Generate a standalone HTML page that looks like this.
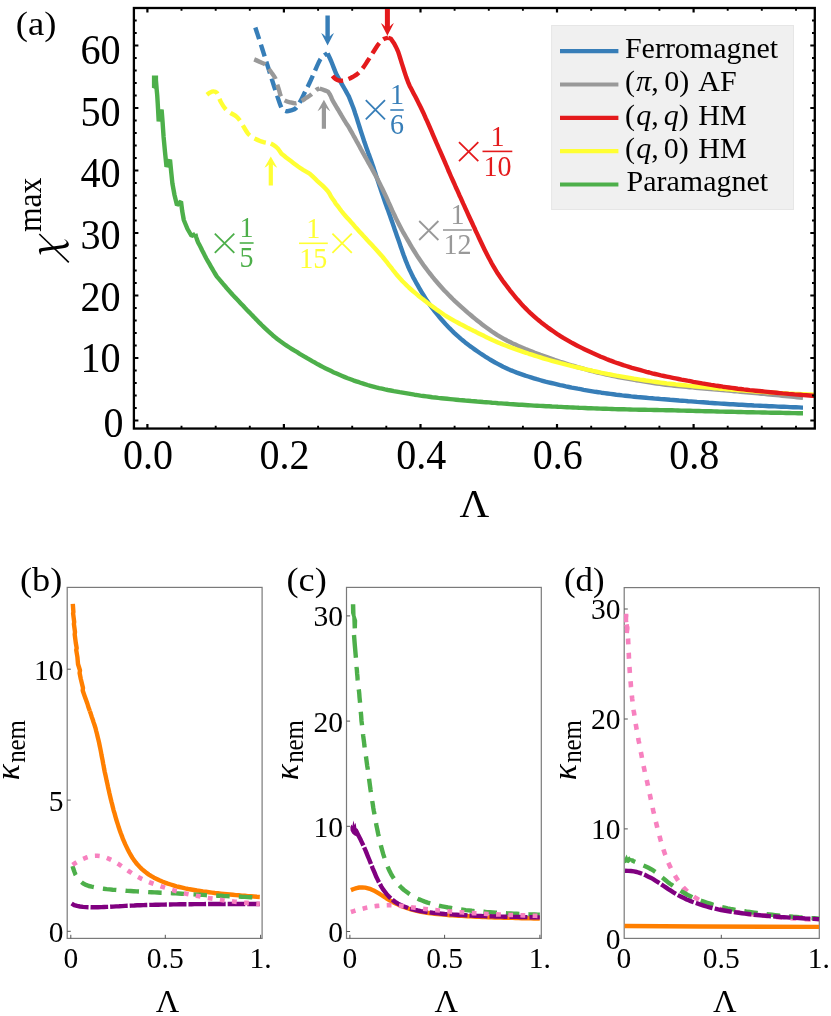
<!DOCTYPE html>
<html><head><meta charset="utf-8"><title>Figure</title>
<style>
html,body{margin:0;padding:0;background:#fff;}
body{width:831px;height:1016px;overflow:hidden;font-family:"Liberation Serif",serif;}
svg{display:block;will-change:transform;}
</style></head>
<body>
<svg width="831" height="1016" viewBox="0 0 831 1016">
<rect width="831" height="1016" fill="#fff"/>
<!-- panel (a) -->
<g fill="none" stroke-linejoin="round" stroke-width="4.4">
<path d="M155.6 77.8L156.6 88.7L157.2 95.0L157.7 103.0L158.2 112.0L158.7 121.3L161.6 109.6L162.5 121.0L163.6 137.0L165.0 152.0L166.5 166.8L170.0 159.6L171.0 170.0L172.4 183.5L174.5 195.0L177.0 205.2L181.0 201.4L182.2 211.0L183.8 220.0L187.5 229.0L191.6 236.0L195.3 233.9" stroke="#4daf4a" stroke-linejoin="bevel"/>
<path d="M151.9 75.6H158.1V88.6L156 89.2L151.9 87.8Z" fill="#4daf4a" stroke="none"/>
<path d="M195.3 233.9L196.1 236.8L197.0 239.6L198.1 242.4L199.5 245.1L200.9 247.8L202.2 250.5L203.6 253.1L204.9 255.8L206.3 258.5L207.8 261.1L209.3 263.7L210.8 266.3L212.3 268.9L213.8 271.5L215.3 274.0L216.9 276.6L218.9 278.9L220.8 281.1L222.7 283.4L224.7 285.7L226.6 288.0L228.6 290.2L230.6 292.4L232.6 294.7L234.7 296.9L236.7 299.1L238.8 301.3L240.8 303.4L242.9 305.6L244.9 307.8L247.0 310.0L249.1 312.1L251.2 314.3L253.3 316.4L255.4 318.6L257.5 320.7L259.6 322.9L261.7 325.0L263.9 327.1L266.0 329.1L268.2 331.2L270.4 333.2L272.7 335.2L275.0 337.1L277.3 339.0L279.7 340.8L282.1 342.5L284.5 344.2L287.0 345.9L289.5 347.5L292.0 349.1L294.6 350.7L297.2 352.2L299.7 353.8L302.3 355.3L304.9 356.8L307.5 358.4L310.1 359.9L312.6 361.4L315.3 362.8L317.9 364.3L320.5 365.7L323.1 367.1L325.8 368.5L328.5 369.8L331.2 371.1L333.9 372.4L336.6 373.6L339.4 374.8L342.2 376.0L344.9 377.1L347.7 378.2L350.5 379.2L353.3 380.3L356.2 381.3L359.0 382.2L361.8 383.2L364.7 384.1L367.6 385.0L370.4 385.8L373.3 386.6L376.2 387.4L379.1 388.1L382.0 388.7L385.0 389.4L387.9 390.0L390.8 390.5L393.8 391.1L396.7 391.6L399.7 392.2L402.6 392.7L405.6 393.2L408.6 393.7L411.5 394.2L414.5 394.7L417.5 395.1L420.4 395.6L423.4 396.0L426.4 396.4L429.3 396.8L432.3 397.2L435.3 397.5L438.3 397.9L441.3 398.2L444.2 398.5L447.2 398.8L450.2 399.1L453.2 399.4L456.2 399.7L459.2 400.0L462.2 400.2L465.2 400.5L468.1 400.7L471.1 401.0L474.1 401.2L477.1 401.5L480.1 401.7L483.1 402.0L486.1 402.2L489.1 402.4L492.1 402.7L495.1 402.9L498.1 403.2L501.1 403.4L504.0 403.6L507.0 403.8L510.0 404.1L513.0 404.3L516.0 404.5L519.0 404.7L522.0 404.8L525.0 405.0L528.0 405.2L531.0 405.4L534.0 405.6L537.0 405.7L540.0 405.9L543.0 406.0L546.0 406.2L549.0 406.3L552.0 406.5L555.0 406.6L558.0 406.8L561.0 406.9L564.0 407.1L567.0 407.2L570.0 407.4L573.0 407.5L576.0 407.6L579.0 407.8L582.0 407.9L585.0 408.0L588.0 408.2L591.0 408.3L594.0 408.4L597.0 408.5L600.0 408.6L603.0 408.7L606.0 408.8L609.0 408.9L612.0 409.0L615.0 409.1L618.0 409.2L621.0 409.3L624.0 409.3L627.0 409.4L630.0 409.5L633.0 409.6L636.0 409.6L639.0 409.7L642.0 409.7L645.0 409.8L648.0 409.9L651.0 409.9L654.0 410.0L657.0 410.0L660.0 410.1L663.0 410.1L666.0 410.2L669.0 410.3L672.0 410.3L675.0 410.4L678.0 410.5L681.0 410.6L684.0 410.6L687.0 410.7L690.0 410.8L693.0 410.9L696.0 411.0L699.0 411.0L702.0 411.1L705.0 411.2L708.0 411.3L711.0 411.3L714.0 411.4L717.0 411.5L720.0 411.6L723.0 411.6L726.0 411.7L729.0 411.8L732.0 411.8L735.0 411.9L738.0 412.0L741.0 412.0L744.0 412.1L747.0 412.2L750.0 412.2L753.0 412.3L756.0 412.4L759.0 412.4L762.0 412.5L765.0 412.5L768.0 412.6L771.0 412.7L774.0 412.7L777.0 412.8L780.0 412.8L783.0 412.9L786.0 413.0L789.0 413.0L792.0 413.1L795.0 413.1L798.0 413.2L801.0 413.3L803.0 413.3" stroke="#4daf4a"/>
<path d="M327.6 53.3L328.8 56.0L330.1 58.8L331.3 61.5L332.4 64.3L333.5 67.1L334.6 69.9L335.7 72.7L337.0 75.4L338.5 78.0L339.9 80.7L341.4 83.3L342.9 85.9L344.4 88.5L345.9 91.1L347.3 93.7L348.8 96.4L349.9 99.1L351.0 101.9L352.1 104.7L353.2 107.5L354.2 110.3L355.1 113.2L356.1 116.1L357.0 118.9L357.9 121.8L358.8 124.6L359.7 127.5L360.6 130.4L361.5 133.2L362.5 136.1L363.4 138.9L364.3 141.8L365.3 144.6L366.3 147.5L367.3 150.3L368.3 153.1L369.4 155.9L370.4 158.8L371.4 161.6L372.4 164.4L373.4 167.3L374.3 170.1L375.3 173.0L376.2 175.8L377.2 178.7L378.1 181.5L379.0 184.4L380.0 187.2L380.9 190.1L381.9 192.9L382.9 195.8L383.8 198.6L384.8 201.4L385.8 204.3L386.8 207.1L387.9 209.9L388.9 212.8L389.9 215.6L390.9 218.4L391.9 221.2L392.9 224.1L393.9 226.9L394.8 229.8L395.8 232.6L396.8 235.4L397.8 238.3L398.8 241.1L399.8 243.9L400.7 246.8L401.7 249.6L402.7 252.4L403.7 255.3L404.8 258.1L405.8 260.9L407.0 263.7L408.1 266.5L409.3 269.2L410.6 271.9L411.9 274.6L413.2 277.3L414.7 279.9L416.1 282.6L417.6 285.2L419.1 287.8L420.6 290.4L422.1 293.0L423.7 295.5L425.3 298.1L426.9 300.6L428.6 303.0L430.3 305.5L432.1 307.9L433.9 310.3L435.8 312.6L437.7 315.0L439.6 317.3L441.5 319.5L443.5 321.8L445.5 324.0L447.6 326.2L449.7 328.4L451.8 330.5L453.9 332.6L456.1 334.6L458.4 336.6L460.6 338.6L462.9 340.5L465.2 342.4L467.6 344.2L470.0 346.1L472.4 347.8L474.9 349.6L477.3 351.3L479.8 353.0L482.3 354.6L484.8 356.3L487.4 357.9L489.9 359.5L492.5 361.0L495.1 362.5L497.7 363.9L500.4 365.3L503.1 366.7L505.8 367.9L508.5 369.2L511.2 370.4L514.0 371.5L516.8 372.6L519.6 373.6L522.5 374.6L525.3 375.6L528.2 376.5L531.0 377.4L533.9 378.3L536.8 379.2L539.7 380.0L542.5 380.8L545.4 381.6L548.4 382.3L551.3 383.0L554.2 383.7L557.1 384.4L560.0 385.1L563.0 385.7L565.9 386.4L568.9 387.0L571.8 387.6L574.7 388.1L577.7 388.7L580.6 389.2L583.6 389.8L586.6 390.3L589.5 390.8L592.5 391.3L595.4 391.8L598.4 392.2L601.4 392.7L604.4 393.1L607.3 393.5L610.3 393.9L613.3 394.3L616.3 394.7L619.2 395.0L622.2 395.4L625.2 395.7L628.2 396.0L631.2 396.4L634.2 396.7L637.2 397.0L640.2 397.2L643.1 397.5L646.1 397.8L649.1 398.1L652.1 398.3L655.1 398.6L658.1 398.8L661.1 399.1L664.1 399.3L667.1 399.5L670.1 399.8L673.1 400.0L676.1 400.2L679.1 400.5L682.1 400.7L685.1 400.9L688.1 401.2L691.0 401.4L694.0 401.6L697.0 401.9L700.0 402.1L703.0 402.3L706.0 402.5L709.0 402.8L712.0 403.0L715.0 403.2L718.0 403.4L721.0 403.6L724.0 403.8L727.0 404.0L730.0 404.2L733.0 404.3L736.0 404.5L739.0 404.7L742.0 404.8L745.0 405.0L748.0 405.2L751.0 405.3L754.0 405.5L757.0 405.6L760.0 405.7L763.0 405.9L766.0 406.0L769.0 406.2L772.0 406.3L775.0 406.4L778.0 406.6L781.0 406.7L784.0 406.8L787.0 406.9L790.0 407.1L793.0 407.2L796.0 407.3L799.0 407.4L802.0 407.6L803.0 407.6" stroke="#377eb8"/>
<path d="M255.3 27.5C256.4 30.9 259.9 41.4 262.0 48.0C264.1 54.6 266.0 60.7 268.0 67.0C270.0 73.3 271.9 79.5 274.0 86.0C276.1 92.5 279.1 102.0 280.7 106.0C282.3 110.0 282.5 109.1 283.5 110.0C284.5 110.9 285.4 111.2 286.7 111.3C287.9 111.4 289.5 110.9 291.0 110.4C292.5 109.9 294.4 109.6 295.9 108.1C297.4 106.6 298.8 104.1 300.2 101.6C301.6 99.1 303.1 95.9 304.5 93.0C305.9 90.1 307.3 87.6 308.9 84.3C310.5 81.0 312.2 77.0 314.0 73.0C315.8 69.0 318.1 63.3 319.7 60.5C321.3 57.7 322.2 57.2 323.5 56.0C324.8 54.8 326.8 53.8 327.4 53.3" stroke="#377eb8" stroke-dasharray="12.3 5.6"/>
<path d="M319.7 88.6L322.6 89.5L325.4 90.6L328.1 91.8L329.8 94.2L331.1 96.9L332.2 99.7L333.7 102.3L335.2 104.9L336.7 107.5L338.3 110.0L339.8 112.6L341.3 115.2L342.9 117.8L344.4 120.3L346.0 122.9L347.7 125.4L349.2 127.9L350.7 130.6L352.2 133.2L353.6 135.8L355.1 138.4L356.5 141.1L358.0 143.7L359.4 146.3L360.8 149.0L362.3 151.6L363.7 154.2L365.2 156.8L366.7 159.4L368.1 162.1L369.6 164.7L371.1 167.3L372.5 169.9L374.0 172.6L375.4 175.2L376.8 177.8L378.2 180.5L379.6 183.2L380.9 185.9L382.2 188.5L383.5 191.3L384.8 194.0L386.1 196.7L387.3 199.4L388.5 202.2L389.8 204.9L391.0 207.6L392.2 210.4L393.5 213.1L394.8 215.8L396.0 218.5L397.4 221.2L398.7 223.9L400.1 226.5L401.5 229.2L402.9 231.8L404.4 234.4L405.9 237.0L407.4 239.6L408.9 242.2L410.4 244.8L411.9 247.4L413.5 250.0L415.1 252.5L416.7 255.1L418.3 257.6L420.0 260.1L421.7 262.5L423.4 265.0L425.2 267.4L427.0 269.8L428.8 272.2L430.7 274.5L432.5 276.9L434.4 279.2L436.4 281.5L438.3 283.7L440.3 286.0L442.3 288.2L444.3 290.4L446.4 292.6L448.5 294.8L450.6 296.9L452.7 299.0L454.9 301.1L457.1 303.1L459.3 305.1L461.5 307.1L463.8 309.1L466.0 311.1L468.3 313.1L470.6 315.0L472.9 317.0L475.2 318.9L477.5 320.8L479.9 322.6L482.2 324.4L484.6 326.3L487.0 328.0L489.5 329.8L491.9 331.5L494.4 333.1L497.0 334.8L499.5 336.3L502.1 337.8L504.7 339.3L507.3 340.7L510.0 342.0L512.7 343.4L515.4 344.6L518.2 345.9L520.9 347.1L523.7 348.2L526.4 349.4L529.2 350.5L532.0 351.6L534.8 352.7L537.6 353.7L540.4 354.8L543.2 355.8L546.1 356.9L548.9 357.9L551.7 358.9L554.5 359.9L557.4 360.8L560.2 361.8L563.1 362.7L565.9 363.6L568.8 364.5L571.7 365.4L574.5 366.2L577.4 367.1L580.3 367.9L583.2 368.7L586.1 369.5L589.0 370.3L591.9 371.0L594.8 371.8L597.7 372.5L600.6 373.2L603.6 373.9L606.5 374.6L609.4 375.2L612.3 375.8L615.3 376.4L618.2 377.0L621.2 377.6L624.1 378.1L627.1 378.7L630.0 379.2L633.0 379.7L635.9 380.2L638.9 380.6L641.9 381.1L644.8 381.6L647.8 382.1L650.8 382.5L653.7 383.0L656.7 383.5L659.7 383.9L662.6 384.3L665.6 384.7L668.6 385.0L671.6 385.3L674.5 385.7L677.5 386.0L680.5 386.3L683.5 386.6L686.5 386.9L689.5 387.2L692.5 387.4L695.4 387.7L698.4 388.0L701.4 388.3L704.4 388.5L707.4 388.8L710.4 389.1L713.4 389.3L716.4 389.6L719.4 389.8L722.3 390.1L725.3 390.4L728.3 390.6L731.3 390.9L734.3 391.2L737.3 391.4L740.3 391.7L743.3 392.0L746.3 392.3L749.2 392.5L752.2 392.8L755.2 393.1L758.2 393.4L761.2 393.7L764.2 393.9L767.2 394.2L770.2 394.5L773.1 394.8L776.1 395.1L779.1 395.4L782.1 395.7L785.1 396.0L788.1 396.3L791.1 396.6L794.0 396.9L797.0 397.2L800.0 397.5L803.0 397.8" stroke="#999999"/>
<path d="M254.2 59.4C255.2 59.8 258.1 61.1 260.0 62.0C261.9 62.9 264.0 63.5 265.6 64.8C267.2 66.1 268.2 68.2 269.4 69.7C270.5 71.2 271.5 72.5 272.5 74.0C273.5 75.5 274.5 76.5 275.3 78.4C276.1 80.3 276.8 83.3 277.5 85.4C278.2 87.5 278.8 89.3 279.3 91.0C279.8 92.7 280.1 94.4 280.7 95.7C281.2 97.0 281.9 98.0 282.6 98.8C283.3 99.6 283.9 100.0 285.1 100.6C286.3 101.2 288.2 101.8 290.0 102.3C291.8 102.8 294.0 103.5 295.9 103.3C297.8 103.1 299.6 102.0 301.3 101.1C303.0 100.2 304.4 99.1 306.0 98.0C307.6 96.9 309.4 96.0 311.1 94.6C312.9 93.2 315.1 90.7 316.5 89.7C317.9 88.7 319.2 88.8 319.7 88.6" stroke="#999999" stroke-dasharray="12.3 5.6"/>
<path d="M270.8 143.6L273.5 144.9L275.9 146.7L278.0 148.8L279.8 151.2L281.5 153.7L283.8 155.5L286.1 157.5L288.5 159.3L290.9 161.1L293.3 162.9L295.7 164.7L298.1 166.5L300.5 168.2L303.1 169.8L305.7 171.3L308.3 172.8L310.7 174.6L312.9 176.7L315.0 178.7L317.2 180.8L319.4 182.8L321.7 184.8L323.9 186.9L325.9 189.1L327.9 191.3L329.6 193.8L331.0 196.5L332.7 198.9L334.4 201.3L335.9 203.9L337.9 206.2L339.6 208.6L341.4 211.0L343.3 213.4L345.3 215.7L347.3 217.9L349.3 220.1L351.3 222.4L353.3 224.6L355.2 226.9L357.2 229.1L359.3 231.4L361.3 233.6L363.3 235.8L365.4 238.0L367.4 240.2L369.5 242.4L371.5 244.6L373.5 246.8L375.6 249.0L377.6 251.2L379.6 253.5L381.6 255.7L383.5 258.0L385.4 260.3L387.3 262.7L389.1 265.1L391.0 267.4L392.8 269.8L394.7 272.1L396.5 274.5L398.5 276.8L400.5 279.0L402.5 281.2L404.6 283.3L406.7 285.4L408.9 287.5L411.1 289.5L413.4 291.5L415.7 293.4L418.0 295.4L420.3 297.2L422.7 299.1L425.1 300.9L427.4 302.8L429.8 304.6L432.3 306.4L434.7 308.1L437.1 309.9L439.6 311.6L442.0 313.3L444.5 315.0L447.1 316.6L449.6 318.1L452.2 319.6L454.8 321.1L457.5 322.5L460.1 324.0L462.8 325.3L465.5 326.7L468.1 328.1L470.8 329.4L473.5 330.8L476.2 332.1L478.9 333.5L481.6 334.8L484.3 336.1L487.0 337.5L489.7 338.7L492.4 340.0L495.2 341.2L497.9 342.4L500.7 343.6L503.5 344.7L506.3 345.8L509.1 346.9L511.9 347.9L514.7 348.9L517.5 349.9L520.4 350.9L523.2 351.9L526.1 352.8L528.9 353.8L531.8 354.7L534.6 355.6L537.5 356.5L540.4 357.4L543.2 358.3L546.1 359.2L549.0 360.0L551.9 360.8L554.8 361.6L557.7 362.4L560.6 363.2L563.5 363.9L566.4 364.7L569.3 365.4L572.2 366.1L575.2 366.8L578.1 367.5L581.0 368.2L583.9 368.9L586.9 369.6L589.8 370.2L592.7 370.9L595.7 371.5L598.6 372.2L601.5 372.8L604.5 373.4L607.4 374.0L610.4 374.5L613.3 375.1L616.3 375.7L619.2 376.2L622.2 376.7L625.1 377.2L628.1 377.7L631.1 378.2L634.0 378.7L637.0 379.1L640.0 379.6L643.0 380.0L645.9 380.5L648.9 380.9L651.9 381.4L654.8 381.8L657.8 382.2L660.8 382.6L663.8 383.0L666.7 383.4L669.7 383.7L672.7 384.0L675.7 384.4L678.7 384.7L681.7 385.0L684.7 385.3L687.7 385.6L690.6 385.9L693.6 386.2L696.6 386.5L699.6 386.8L702.6 387.1L705.6 387.4L708.6 387.6L711.6 387.9L714.6 388.2L717.6 388.4L720.6 388.7L723.6 388.9L726.6 389.2L729.5 389.4L732.5 389.7L735.5 389.9L738.5 390.2L741.5 390.4L744.5 390.6L747.5 390.9L750.5 391.1L753.5 391.3L756.5 391.5L759.5 391.7L762.5 391.9L765.5 392.1L768.5 392.3L771.5 392.5L774.5 392.7L777.5 392.9L780.5 393.1L783.5 393.2L786.5 393.4L789.5 393.6L792.5 393.7L795.5 393.9L798.5 394.0L801.5 394.2L804.5 394.3L807.5 394.4L810.5 394.5L813.5 394.7L814.5 394.7" stroke="#ffff33"/>
<path d="M206.9 94.7C207.4 94.3 208.9 93.1 210.0 92.6C211.1 92.0 212.3 91.4 213.4 91.4C214.5 91.4 215.8 91.7 216.6 92.5C217.4 93.3 217.8 94.9 218.5 96.5C219.2 98.1 219.9 100.2 221.0 102.2C222.1 104.2 223.8 107.0 225.3 108.7C226.8 110.4 228.2 111.2 230.0 112.5C231.8 113.8 234.5 115.0 236.1 116.3C237.7 117.5 238.4 118.5 239.5 120.0C240.6 121.5 241.6 123.4 242.6 125.0C243.6 126.6 244.4 128.1 245.3 129.5C246.2 130.9 247.0 132.4 248.0 133.6C249.0 134.8 250.2 135.8 251.5 136.7C252.8 137.6 254.2 138.3 255.6 139.0C257.0 139.7 258.6 140.4 260.0 141.0C261.4 141.6 262.5 141.9 264.3 142.3C266.1 142.7 269.7 143.4 270.8 143.6" stroke="#ffff33" stroke-dasharray="12.3 5.6"/>
<path d="M388.1 37.7L390.9 38.8L392.6 41.2L394.3 43.7L395.7 46.4L397.0 49.1L398.2 51.8L399.1 54.7L400.0 57.5L400.9 60.4L401.8 63.3L402.7 66.1L403.6 69.0L404.5 71.9L405.4 74.7L406.4 77.6L407.5 80.4L408.5 83.2L409.7 85.9L411.1 88.6L412.5 91.2L413.9 93.9L415.3 96.5L416.7 99.2L418.0 101.9L419.3 104.6L420.7 107.3L422.0 110.0L423.3 112.7L424.5 115.4L425.7 118.2L427.0 120.9L428.2 123.6L429.4 126.4L430.6 129.1L431.8 131.9L432.9 134.7L434.1 137.4L435.3 140.2L436.5 143.0L437.7 145.7L438.9 148.5L440.1 151.2L441.3 153.9L442.5 156.7L443.7 159.4L444.9 162.2L446.1 165.0L447.3 167.7L448.4 170.5L449.6 173.2L450.8 176.0L452.0 178.7L453.3 181.5L454.5 184.2L455.7 187.0L457.0 189.7L458.2 192.4L459.4 195.2L460.7 197.9L461.9 200.6L463.1 203.4L464.4 206.1L465.6 208.8L466.9 211.6L468.1 214.3L469.3 217.0L470.6 219.8L471.9 222.5L473.1 225.2L474.4 227.9L475.6 230.7L476.9 233.4L478.2 236.1L479.4 238.8L480.7 241.5L482.0 244.3L483.3 247.0L484.6 249.7L485.9 252.3L487.3 255.0L488.7 257.7L490.1 260.3L491.5 263.0L493.0 265.6L494.5 268.2L496.0 270.7L497.6 273.3L499.3 275.8L501.0 278.3L502.7 280.7L504.5 283.1L506.3 285.5L508.1 287.9L509.9 290.3L511.8 292.6L513.7 295.0L515.6 297.3L517.5 299.6L519.5 301.8L521.5 304.1L523.5 306.3L525.6 308.4L527.7 310.5L529.9 312.6L532.1 314.6L534.3 316.6L536.6 318.6L538.9 320.5L541.2 322.4L543.6 324.2L546.0 326.1L548.4 327.9L550.8 329.6L553.3 331.3L555.7 333.0L558.2 334.7L560.8 336.3L563.3 337.9L565.9 339.4L568.5 340.9L571.1 342.4L573.7 343.8L576.4 345.2L579.1 346.6L581.7 347.9L584.4 349.2L587.1 350.5L589.9 351.8L592.6 353.1L595.3 354.3L598.1 355.5L600.8 356.7L603.6 357.8L606.4 359.0L609.2 360.1L612.0 361.1L614.8 362.2L617.6 363.2L620.5 364.1L623.3 365.1L626.2 366.0L629.0 366.9L631.9 367.8L634.8 368.6L637.7 369.4L640.6 370.2L643.5 371.0L646.4 371.8L649.3 372.5L652.2 373.3L655.1 374.0L658.0 374.7L660.9 375.4L663.9 376.0L666.8 376.6L669.7 377.2L672.7 377.8L675.6 378.4L678.6 379.0L681.5 379.6L684.5 380.1L687.4 380.7L690.4 381.2L693.3 381.8L696.3 382.3L699.2 382.8L702.2 383.4L705.1 383.9L708.1 384.4L711.1 384.9L714.0 385.3L717.0 385.8L720.0 386.2L722.9 386.7L725.9 387.1L728.9 387.5L731.8 387.9L734.8 388.3L737.8 388.7L740.8 389.0L743.8 389.4L746.7 389.7L749.7 390.1L752.7 390.4L755.7 390.7L758.7 391.0L761.7 391.3L764.7 391.6L767.6 391.9L770.6 392.2L773.6 392.5L776.6 392.8L779.6 393.1L782.6 393.4L785.6 393.6L788.6 393.9L791.6 394.1L794.5 394.4L797.5 394.6L800.5 394.8L803.5 395.1L806.5 395.3L809.5 395.5L812.5 395.7L814.5 395.9" stroke="#e41a1c"/>
<path d="M332.5 75.8C332.9 76.3 334.0 77.8 335.0 78.6C336.0 79.3 337.0 80.0 338.3 80.3C339.6 80.6 341.4 80.8 343.0 80.6C344.6 80.4 346.1 80.0 347.7 79.4C349.3 78.8 350.8 78.0 352.5 77.0C354.2 76.0 356.1 75.1 357.8 73.6C359.6 72.1 361.3 70.0 363.0 67.8C364.7 65.6 366.2 63.1 367.9 60.6C369.6 58.1 371.3 55.1 373.0 52.5C374.7 49.9 376.7 46.7 378.0 44.8C379.3 42.9 380.0 42.3 381.0 41.3C382.0 40.3 382.6 39.6 383.8 39.0C385.0 38.4 387.4 37.9 388.1 37.7" stroke="#e41a1c" stroke-dasharray="12.3 5.6"/>
</g>
<g stroke="#000" fill="none">
<rect x="133.90" y="8.00" width="680.90" height="420.55" stroke-width="2.3"/>
<path d="M147.4 428.55v-4.5M147.4 8.00v4.5" stroke-width="2.2"/><path d="M181.5 428.55v-2.8M181.5 8.00v2.8" stroke-width="1.9"/><path d="M215.7 428.55v-2.8M215.7 8.00v2.8" stroke-width="1.9"/><path d="M249.8 428.55v-2.8M249.8 8.00v2.8" stroke-width="1.9"/><path d="M283.9 428.55v-4.5M283.9 8.00v4.5" stroke-width="2.2"/><path d="M318.1 428.55v-2.8M318.1 8.00v2.8" stroke-width="1.9"/><path d="M352.2 428.55v-2.8M352.2 8.00v2.8" stroke-width="1.9"/><path d="M386.3 428.55v-2.8M386.3 8.00v2.8" stroke-width="1.9"/><path d="M420.5 428.55v-4.5M420.5 8.00v4.5" stroke-width="2.2"/><path d="M454.6 428.55v-2.8M454.6 8.00v2.8" stroke-width="1.9"/><path d="M488.8 428.55v-2.8M488.8 8.00v2.8" stroke-width="1.9"/><path d="M522.9 428.55v-2.8M522.9 8.00v2.8" stroke-width="1.9"/><path d="M557.0 428.55v-4.5M557.0 8.00v4.5" stroke-width="2.2"/><path d="M591.2 428.55v-2.8M591.2 8.00v2.8" stroke-width="1.9"/><path d="M625.3 428.55v-2.8M625.3 8.00v2.8" stroke-width="1.9"/><path d="M659.4 428.55v-2.8M659.4 8.00v2.8" stroke-width="1.9"/><path d="M693.6 428.55v-4.5M693.6 8.00v4.5" stroke-width="2.2"/><path d="M727.7 428.55v-2.8M727.7 8.00v2.8" stroke-width="1.9"/><path d="M761.8 428.55v-2.8M761.8 8.00v2.8" stroke-width="1.9"/><path d="M796.0 428.55v-2.8M796.0 8.00v2.8" stroke-width="1.9"/><path d="M133.90 420.5h4.5M814.80 420.5h-4.5" stroke-width="2.2"/><path d="M133.90 408.0h2.8M814.80 408.0h-2.8" stroke-width="1.9"/><path d="M133.90 395.5h2.8M814.80 395.5h-2.8" stroke-width="1.9"/><path d="M133.90 383.0h2.8M814.80 383.0h-2.8" stroke-width="1.9"/><path d="M133.90 370.5h2.8M814.80 370.5h-2.8" stroke-width="1.9"/><path d="M133.90 358.0h4.5M814.80 358.0h-4.5" stroke-width="2.2"/><path d="M133.90 345.5h2.8M814.80 345.5h-2.8" stroke-width="1.9"/><path d="M133.90 333.0h2.8M814.80 333.0h-2.8" stroke-width="1.9"/><path d="M133.90 320.5h2.8M814.80 320.5h-2.8" stroke-width="1.9"/><path d="M133.90 308.0h2.8M814.80 308.0h-2.8" stroke-width="1.9"/><path d="M133.90 295.5h4.5M814.80 295.5h-4.5" stroke-width="2.2"/><path d="M133.90 283.0h2.8M814.80 283.0h-2.8" stroke-width="1.9"/><path d="M133.90 270.5h2.8M814.80 270.5h-2.8" stroke-width="1.9"/><path d="M133.90 258.0h2.8M814.80 258.0h-2.8" stroke-width="1.9"/><path d="M133.90 245.5h2.8M814.80 245.5h-2.8" stroke-width="1.9"/><path d="M133.90 233.0h4.5M814.80 233.0h-4.5" stroke-width="2.2"/><path d="M133.90 220.5h2.8M814.80 220.5h-2.8" stroke-width="1.9"/><path d="M133.90 208.0h2.8M814.80 208.0h-2.8" stroke-width="1.9"/><path d="M133.90 195.5h2.8M814.80 195.5h-2.8" stroke-width="1.9"/><path d="M133.90 183.0h2.8M814.80 183.0h-2.8" stroke-width="1.9"/><path d="M133.90 170.5h4.5M814.80 170.5h-4.5" stroke-width="2.2"/><path d="M133.90 158.0h2.8M814.80 158.0h-2.8" stroke-width="1.9"/><path d="M133.90 145.5h2.8M814.80 145.5h-2.8" stroke-width="1.9"/><path d="M133.90 133.0h2.8M814.80 133.0h-2.8" stroke-width="1.9"/><path d="M133.90 120.5h2.8M814.80 120.5h-2.8" stroke-width="1.9"/><path d="M133.90 108.0h4.5M814.80 108.0h-4.5" stroke-width="2.2"/><path d="M133.90 95.5h2.8M814.80 95.5h-2.8" stroke-width="1.9"/><path d="M133.90 83.0h2.8M814.80 83.0h-2.8" stroke-width="1.9"/><path d="M133.90 70.5h2.8M814.80 70.5h-2.8" stroke-width="1.9"/><path d="M133.90 58.0h2.8M814.80 58.0h-2.8" stroke-width="1.9"/><path d="M133.90 45.5h4.5M814.80 45.5h-4.5" stroke-width="2.2"/><path d="M133.90 33.0h2.8M814.80 33.0h-2.8" stroke-width="1.9"/><path d="M133.90 20.5h2.8M814.80 20.5h-2.8" stroke-width="1.9"/>
</g>
<path fill="#377eb8" d="M327.6 45.6 L321.2 33.0 Q324.2 34.6 325.4 36.4 L325.4 15.6 L329.8 15.6 L329.8 36.4 Q331.0 34.6 334.0 33.0 Z"/>
<path fill="#e41a1c" d="M387.4 35.7 L380.9 23.1 Q383.7 24.7 384.9 26.5 L384.9 9.1 L389.9 9.1 L389.9 26.5 Q391.1 24.7 393.9 23.1 Z"/>
<path fill="#999999" d="M323.9 99.8 L317.5 111.2 Q320.6 109.6 321.8 107.8 L321.8 128.8 L326.0 128.8 L326.0 107.8 Q327.2 109.6 330.3 111.2 Z"/>
<path fill="#ffff33" d="M270.8 156.4 L264.4 167.8 Q267.5 166.2 268.7 164.4 L268.7 185.6 L272.9 185.6 L272.9 164.4 Q274.1 166.2 277.2 167.8 Z"/>
<g font-family="'Liberation Serif', serif" font-size="41.3" fill="#000" lengthAdjust="spacingAndGlyphs">
<text x="123.6" y="437.0" text-anchor="end" textLength="20" lengthAdjust="spacingAndGlyphs">0</text>
<text x="120.6" y="372.4" text-anchor="end" textLength="40.2" lengthAdjust="spacingAndGlyphs">10</text>
<text x="120.6" y="310.7" text-anchor="end" textLength="40.2" lengthAdjust="spacingAndGlyphs">20</text>
<text x="120.6" y="249.0" text-anchor="end" textLength="40.2" lengthAdjust="spacingAndGlyphs">30</text>
<text x="120.6" y="187.2" text-anchor="end" textLength="40.2" lengthAdjust="spacingAndGlyphs">40</text>
<text x="120.6" y="125.5" text-anchor="end" textLength="40.2" lengthAdjust="spacingAndGlyphs">50</text>
<text x="120.6" y="63.8" text-anchor="end" textLength="40.2" lengthAdjust="spacingAndGlyphs">60</text>
<text x="148.1" y="469" text-anchor="middle" textLength="50" lengthAdjust="spacingAndGlyphs">0.0</text>
<text x="284.6" y="469" text-anchor="middle" textLength="50" lengthAdjust="spacingAndGlyphs">0.2</text>
<text x="421.2" y="469" text-anchor="middle" textLength="50" lengthAdjust="spacingAndGlyphs">0.4</text>
<text x="557.7" y="469" text-anchor="middle" textLength="50" lengthAdjust="spacingAndGlyphs">0.6</text>
<text x="694.3" y="469" text-anchor="middle" textLength="50" lengthAdjust="spacingAndGlyphs">0.8</text>
<text x="474.4" y="517" text-anchor="middle" font-size="39.8" textLength="29.8" lengthAdjust="spacingAndGlyphs">&#923;</text>
</g>
<text x="15.8" y="34.5" font-family="'Liberation Serif', serif" font-size="34.5" fill="#000" textLength="40.6" lengthAdjust="spacingAndGlyphs">(a)</text>
<g transform="translate(69,262.5) rotate(-90)" font-family="'Liberation Serif', serif" fill="#000">
<text x="30.4" y="-27.8" font-size="33" textLength="54.4" lengthAdjust="spacingAndGlyphs">max</text>
</g>
<path d="M40.6 255C39.6 253.5 38.8 251.5 38.9 249.9C39.2 248.6 40.2 248.3 42 248.1L60 245.5C63.5 245 66.4 244 66.6 242.4C66.6 241.2 65.4 240.2 63.8 239.2C66.3 239.6 68.6 241.6 68.9 244.2C69 246.6 67 247.7 63 248.3L43.5 251C41.6 251.3 41 252 41 253Z" fill="#000"/>
<path d="M39.3 234L68.8 262.3" stroke="#000" stroke-width="1.6" fill="none"/>
<rect x="551.6" y="25.5" width="241.9" height="184.0" fill="#f0f0f0" stroke="#e6e6e6" stroke-width="1"/>
<path d="M560 51.2H618.4" stroke="#377eb8" stroke-width="4.2"/>
<path d="M560 84.5H618.4" stroke="#999999" stroke-width="4.2"/>
<path d="M560 117.8H618.4" stroke="#e41a1c" stroke-width="4.2"/>
<path d="M560 151.2H618.4" stroke="#ffff33" stroke-width="4.2"/>
<path d="M560 184.5H618.4" stroke="#4daf4a" stroke-width="4.2"/>
<g font-family="'Liberation Serif', serif" font-size="30" fill="#000">
<text x="624.9" y="57.6">Ferromagnet</text>
<text x="625.0" y="91.2">(<tspan dx="1.3" font-style="italic">&#960;</tspan>,<tspan dx="5.4">0)</tspan><tspan x="698.3">AF</tspan></text>
<text x="625.0" y="124.6">(<tspan dx="1.3" font-style="italic">q</tspan>,<tspan dx="5" font-style="italic">q</tspan>)<tspan x="698.3">HM</tspan></text>
<text x="625.0" y="157.8">(<tspan dx="1.3" font-style="italic">q</tspan>,<tspan dx="5">0)</tspan><tspan x="698.3">HM</tspan></text>
<text x="626.5" y="191.3">Paramagnet</text>
</g>
<path d="M365.8 100.2L385.0 119.4M365.8 119.4L385.0 100.2" stroke="#377eb8" stroke-width="1.8" fill="none"/>
<g font-family="'Liberation Serif', serif" font-size="30" fill="#377eb8" text-anchor="middle"><text x="397.0" y="104.2" textLength="14.0" lengthAdjust="spacingAndGlyphs">1</text><text x="397.0" y="134.4" textLength="14.0" lengthAdjust="spacingAndGlyphs">6</text></g><path d="M390.3 110.0H403.7" stroke="#377eb8" stroke-width="1.6"/>
<path d="M459.0 142.2L478.3 161.2M459.0 161.2L478.3 142.2" stroke="#e41a1c" stroke-width="1.8" fill="none"/>
<g font-family="'Liberation Serif', serif" font-size="30" fill="#e41a1c" text-anchor="middle"><text x="497.4" y="145.6" textLength="14.0" lengthAdjust="spacingAndGlyphs">1</text><text x="497.4" y="175.8" textLength="28.0" lengthAdjust="spacingAndGlyphs">10</text></g><path d="M482.5 151.4H512.3" stroke="#e41a1c" stroke-width="1.6"/>
<path d="M419.2 221.0L438.4 240.0M419.2 240.0L438.4 221.0" stroke="#999999" stroke-width="1.8" fill="none"/>
<g font-family="'Liberation Serif', serif" font-size="30" fill="#999999" text-anchor="middle"><text x="457.4" y="224.2" textLength="14.0" lengthAdjust="spacingAndGlyphs">1</text><text x="457.4" y="254.4" textLength="28.0" lengthAdjust="spacingAndGlyphs">12</text></g><path d="M443.0 230.0H471.8" stroke="#999999" stroke-width="1.6"/>
<path d="M214.8 233.6L234.3 252.8M214.8 252.8L234.3 233.6" stroke="#4daf4a" stroke-width="1.8" fill="none"/>
<g font-family="'Liberation Serif', serif" font-size="30" fill="#4daf4a" text-anchor="middle"><text x="246.4" y="237.2" textLength="14.0" lengthAdjust="spacingAndGlyphs">1</text><text x="246.4" y="267.4" textLength="14.0" lengthAdjust="spacingAndGlyphs">5</text></g><path d="M239.7 243.0H253.6" stroke="#4daf4a" stroke-width="1.6"/>
<g font-family="'Liberation Serif', serif" font-size="30" fill="#ffff33" text-anchor="middle"><text x="313.3" y="237.5" textLength="14.0" lengthAdjust="spacingAndGlyphs">1</text><text x="313.3" y="267.7" textLength="28.0" lengthAdjust="spacingAndGlyphs">15</text></g><path d="M299.0 243.3H327.8" stroke="#ffff33" stroke-width="1.6"/>
<path d="M332.4 233.6L351.8 252.8M332.4 252.8L351.8 233.6" stroke="#ffff33" stroke-width="1.8" fill="none"/>
<!-- panels (b)(c)(d) -->
<rect x="67.2" y="587.4" width="194.9" height="351.0" fill="none" stroke="#7a7a7a" stroke-width="1.2"/><path d="M70.8 938.4v-3.6M165.3 938.4v-3.6M260.6 938.4v-3.6M67.2 931.3h3.6M67.2 800.1h3.6M67.2 669.2h3.6" stroke="#555" stroke-width="1" fill="none"/><g font-family="'Liberation Serif', serif" font-size="29.5" fill="#000"><text x="70.8" y="968.2" text-anchor="middle">0</text><text x="165.3" y="968.2" text-anchor="middle">0.5</text><text x="260.6" y="968.2" text-anchor="middle">1.</text><text x="63.6" y="941.7" text-anchor="end">0</text><text x="63.6" y="810.5" text-anchor="end">5</text><text x="63.6" y="679.6" text-anchor="end">10</text></g><text x="20.0" y="591.2" font-family="'Liberation Serif', serif" font-size="33.5" fill="#000" textLength="42.3" lengthAdjust="spacingAndGlyphs">(b)</text><text x="167.5" y="1012" text-anchor="middle" font-family="'Liberation Serif', serif" font-size="32.5" fill="#000">&#923;</text><g transform="translate(19.3,780.2) rotate(-90)" font-family="'Liberation Serif', serif" fill="#000"><text x="0" y="0" font-size="33.5" font-style="italic">&#954;</text><text x="17.4" y="5.4" font-size="28" textLength="42.7" lengthAdjust="spacingAndGlyphs">nem</text></g>
<rect x="346.5" y="587.4" width="194.8" height="351.0" fill="none" stroke="#7a7a7a" stroke-width="1.2"/><path d="M349.9 938.4v-3.6M444.6 938.4v-3.6M539.9 938.4v-3.6M346.5 931.5h3.6M346.5 826.3h3.6M346.5 721.1h3.6M346.5 615.9h3.6" stroke="#555" stroke-width="1" fill="none"/><g font-family="'Liberation Serif', serif" font-size="29.5" fill="#000"><text x="349.9" y="968.2" text-anchor="middle">0</text><text x="444.6" y="968.2" text-anchor="middle">0.5</text><text x="539.9" y="968.2" text-anchor="middle">1.</text><text x="342.9" y="941.9" text-anchor="end">0</text><text x="342.9" y="836.7" text-anchor="end">10</text><text x="342.9" y="731.5" text-anchor="end">20</text><text x="342.9" y="626.3" text-anchor="end">30</text></g><text x="286.5" y="591.2" font-family="'Liberation Serif', serif" font-size="33.5" fill="#000" textLength="40.2" lengthAdjust="spacingAndGlyphs">(c)</text><text x="446.2" y="1012" text-anchor="middle" font-family="'Liberation Serif', serif" font-size="32.5" fill="#000">&#923;</text><g transform="translate(297.9,780.2) rotate(-90)" font-family="'Liberation Serif', serif" fill="#000"><text x="0" y="0" font-size="33.5" font-style="italic">&#954;</text><text x="17.4" y="5.4" font-size="28" textLength="42.7" lengthAdjust="spacingAndGlyphs">nem</text></g>
<rect x="624.2" y="587.6" width="195.1" height="350.8" fill="none" stroke="#7a7a7a" stroke-width="1.2"/><path d="M721.3 938.4v-3.6M624.2 828.9h3.6M624.2 719.0h3.6M624.2 609.0h3.6" stroke="#555" stroke-width="1" fill="none"/><g font-family="'Liberation Serif', serif" font-size="29.5" fill="#000"><text x="623.9" y="968.2" text-anchor="middle">0</text><text x="721.3" y="968.2" text-anchor="middle">0.5</text><text x="818.7" y="968.2" text-anchor="middle">1.</text><text x="620.6" y="949.0" text-anchor="end">0</text><text x="620.6" y="839.3" text-anchor="end">10</text><text x="620.6" y="729.4" text-anchor="end">20</text><text x="620.6" y="619.4" text-anchor="end">30</text></g><text x="564.0" y="591.2" font-family="'Liberation Serif', serif" font-size="33.5" fill="#000" textLength="40.6" lengthAdjust="spacingAndGlyphs">(d)</text><text x="724.9" y="1012" text-anchor="middle" font-family="'Liberation Serif', serif" font-size="32.5" fill="#000">&#923;</text><g transform="translate(575.9,780.2) rotate(-90)" font-family="'Liberation Serif', serif" fill="#000"><text x="0" y="0" font-size="33.5" font-style="italic">&#954;</text><text x="17.4" y="5.4" font-size="28" textLength="42.7" lengthAdjust="spacingAndGlyphs">nem</text></g>
<g fill="none" stroke-linejoin="round" stroke-width="4.4">
<path d="M72.8 603.9L73.4 612.0L73.1 613.5L74.2 622.0L73.9 624.0L75.0 632.0L74.7 634.5L75.8 643.0L76.7 648.1L76.2 650.0L77.4 657.0L78.0 664.0L80.0 670.5L79.6 673.0L80.8 679.0L83.0 688.0L82.7 690.5L84.6 696.0L87.5 704.0L88.2 706.5L89.8 711.0" stroke="#ff7f00"/>
<path d="M89.8 711.0L90.8 713.8L91.7 716.7L92.7 719.5L93.6 722.4L94.6 725.3L95.5 728.1L96.2 731.0L97.0 734.0L97.7 736.9L98.4 739.8L99.1 742.7L99.7 745.7L100.3 748.6L100.9 751.6L101.4 754.5L102.0 757.5L102.6 760.4L103.1 763.4L103.7 766.3L104.2 769.3L104.8 772.2L105.5 775.2L106.1 778.1L106.7 781.1L107.4 784.0L108.0 786.9L108.7 789.9L109.3 792.8L110.0 795.7L110.7 798.7L111.4 801.6L112.2 804.5L112.9 807.4L113.6 810.3L114.5 813.2L115.3 816.1L116.1 819.0L117.0 821.9L117.9 824.7L118.8 827.6L119.8 830.4L120.8 833.3L121.9 836.1L122.9 838.9L124.1 841.7L125.3 844.4L126.6 847.1L127.9 849.8L129.3 852.5L130.8 855.1L132.3 857.7L134.0 860.1L135.8 862.5L137.7 864.8L139.8 867.0L141.9 869.1L144.2 871.0L146.5 872.9L148.9 874.6L151.4 876.2L154.0 877.7L156.7 879.0L159.4 880.3L162.2 881.5L165.0 882.6L167.8 883.6L170.7 884.5L173.5 885.4L176.4 886.3L179.3 887.0L182.2 887.7L185.2 888.4L188.1 889.0L191.1 889.5L194.0 890.0L197.0 890.5L200.0 890.9L203.0 891.4L205.9 891.8L208.9 892.2L211.9 892.6L214.9 893.0L217.9 893.3L220.9 893.6L223.8 893.9L226.8 894.2L229.8 894.5L232.8 894.8L235.8 895.1L238.8 895.3L241.8 895.6L244.8 895.8L247.8 896.1L250.8 896.3L253.8 896.5L256.8 896.8L259.8 897.0" stroke="#ff7f00"/>
<path d="M72.6 866.1L73.4 869.0L74.4 871.8L75.5 874.6L77.1 877.2L78.7 879.7L81.0 881.7L83.3 883.6L86.0 884.9L88.8 886.0L91.7 886.7L94.7 887.3L97.6 887.8L100.6 888.3L103.6 888.7L106.6 889.1L109.6 889.4L112.6 889.7L115.5 889.9L118.5 890.2L121.5 890.4L124.5 890.6L127.6 890.9L130.6 891.0L133.6 891.2L136.6 891.4L139.6 891.6L142.6 891.7L145.6 891.9L148.6 892.1L151.6 892.2L154.6 892.4L157.6 892.5L160.6 892.7L163.6 892.8L166.6 893.0L169.6 893.1L172.6 893.2L175.6 893.4L178.6 893.5L181.7 893.7L184.7 893.9L187.7 894.0L190.7 894.2L193.7 894.4L196.7 894.6L199.7 894.7L202.7 894.9L205.7 895.1L208.7 895.3L211.7 895.4L214.7 895.6L217.7 895.7L220.7 895.8L223.7 896.0L226.7 896.1L229.7 896.2L232.7 896.4L235.8 896.5L238.8 896.6L241.8 896.8L244.8 896.9L247.8 897.1L250.8 897.2L253.8 897.4L256.8 897.5L259.8 897.7" stroke="#4daf4a" stroke-dasharray="13.5 9.2" stroke-dashoffset="4"/>
<path d="M71.6 903.5L74.2 905.1L77.1 905.9L80.0 906.5L83.0 906.9L86.0 907.1L89.0 907.2L92.0 907.3L95.0 907.3L98.1 907.2L101.1 907.1L104.1 907.0L107.1 906.9L110.1 906.8L113.1 906.6L116.1 906.4L119.1 906.3L122.1 906.1L125.2 905.9L128.2 905.8L131.2 905.6L134.2 905.5L137.2 905.3L140.2 905.2L143.2 905.1L146.2 905.0L149.3 904.9L152.3 904.9L155.3 904.8L158.3 904.7L161.3 904.6L164.3 904.6L167.3 904.5L170.4 904.5L173.4 904.4L176.4 904.4L179.4 904.3L182.4 904.3L185.4 904.2L188.4 904.2L191.5 904.2L194.5 904.1L197.5 904.1L200.5 904.1L203.5 904.1L206.5 904.0L209.5 904.0L212.6 904.0L215.6 904.0L218.6 904.0L221.6 904.0L224.6 904.0L227.6 904.0L230.7 904.0L233.7 904.0L236.7 904.0L239.7 904.0L242.7 904.0L245.7 904.0L248.7 904.0L251.8 904.0L254.8 904.0L257.8 904.0L259.8 904.0" stroke="#800080" stroke-dasharray="17.6 2"/>
<path d="M72.6 864.9L75.1 863.2L77.6 861.7L80.2 860.2L82.9 858.9L85.7 857.8L88.5 856.9L91.4 856.2L94.3 855.8L97.2 855.7L100.1 856.0L103.0 856.6L105.8 857.5L108.5 858.6L111.2 859.9L113.9 861.3L116.4 862.8L119.0 864.4L121.5 866.1L123.9 867.8L126.4 869.5L128.9 871.3L131.4 872.9L133.9 874.6L136.4 876.1L139.1 877.5L141.7 878.9L144.5 880.2L147.2 881.4L150.0 882.5L152.8 883.5L155.7 884.5L158.5 885.5L161.4 886.5L164.2 887.4L167.1 888.3L169.9 889.2L172.8 890.1L175.7 891.0L178.6 891.8L181.5 892.5L184.4 893.3L187.4 894.0L190.3 894.6L193.2 895.2L196.2 895.8L199.1 896.3L202.1 896.9L205.1 897.4L208.0 897.9L211.0 898.4L214.0 898.8L216.9 899.3L219.9 899.7L222.9 900.2L225.9 900.6L228.9 901.0L231.8 901.3L234.8 901.7L237.8 902.0L240.8 902.4L243.8 902.7L246.8 902.9L249.8 903.2L252.8 903.4L255.8 903.7L258.8 903.9L259.8 904.0" stroke="#f781bf" stroke-dasharray="4.8 7.4" stroke-width="4.6"/>
</g>
<g fill="none" stroke-linejoin="round" stroke-width="4.4">
<path d="M350.9 890.1L353.7 889.0L356.5 888.1L359.3 887.5L362.3 887.4L365.2 887.6L368.0 888.3L370.8 889.2L373.6 890.4L376.2 891.9L378.8 893.4L381.3 895.0L383.9 896.6L386.4 898.3L388.9 899.9L391.5 901.4L394.2 902.8L396.9 904.1L399.6 905.3L402.4 906.5L405.2 907.5L408.1 908.5L410.9 909.4L413.8 910.2L416.7 910.9L419.7 911.5L422.6 912.1L425.6 912.6L428.6 913.0L431.6 913.4L434.6 913.7L437.6 914.0L440.6 914.3L443.6 914.6L446.5 914.9L449.5 915.2L452.5 915.4L455.6 915.6L458.6 915.8L461.6 915.9L464.6 916.1L467.6 916.2L470.6 916.4L473.6 916.5L476.6 916.7L479.6 916.8L482.6 917.0L485.6 917.1L488.6 917.2L491.6 917.4L494.6 917.5L497.7 917.5L500.7 917.6L503.7 917.7L506.7 917.8L509.7 917.9L512.7 917.9L515.7 918.0L518.7 918.1L521.7 918.2L524.7 918.2L527.8 918.3L530.8 918.4L533.8 918.5L536.8 918.5L539.8 918.6" stroke="#ff7f00"/>
<path d="M355.9 658.2L356.1 661.2L356.4 664.2L356.6 667.2L356.9 670.2L357.1 673.2L357.4 676.2L357.6 679.2L357.9 682.2L358.2 685.2L358.5 688.1L359.0 691.1L359.3 694.1L359.5 697.1L359.8 700.1L360.1 703.1L360.4 706.1L360.6 709.1L360.8 712.1L361.1 715.1L361.3 718.0L361.5 721.0L361.9 724.0L362.2 727.0L362.5 730.0L362.9 733.0L363.2 736.0L363.6 739.0L364.0 741.9L364.3 744.9L364.7 747.9L365.1 750.9L365.5 753.9L366.0 756.8L366.4 759.8L366.8 762.8L367.2 765.8L367.7 768.7L368.1 771.7L368.5 774.7L368.9 777.7L369.3 780.6L369.7 783.6L370.1 786.6L370.5 789.6L371.0 792.6L371.4 795.5L371.8 798.5L372.3 801.5L372.8 804.4L373.2 807.4L373.7 810.4L374.3 813.3L374.8 816.3L375.3 819.2L375.9 822.2L376.4 825.2L377.0 828.1L377.6 831.0L378.2 834.0L378.9 836.9L379.5 839.9L380.2 842.8L380.9 845.7L381.7 848.6L382.5 851.5L383.3 854.4L384.2 857.2L385.1 860.1L386.2 862.9L387.2 865.7L388.4 868.5L389.7 871.2L391.0 873.8L392.5 876.4L394.1 878.9L395.8 881.4L397.7 883.7L399.7 885.9L401.8 888.0L404.0 890.0L406.4 891.8L408.8 893.6L411.3 895.2L413.9 896.7L416.5 898.1L419.2 899.4L422.0 900.5L424.8 901.6L427.6 902.6L430.5 903.4L433.3 904.2L436.3 905.0L439.2 905.7L442.1 906.3L445.1 906.9L448.0 907.5L451.0 908.0L453.9 908.5L456.9 908.9L459.9 909.3L462.8 909.7L465.8 910.1L468.8 910.4L471.8 910.8L474.8 911.1L477.8 911.3L480.8 911.6L483.8 911.8L486.8 912.1L489.8 912.3L492.8 912.5L495.8 912.7L498.8 912.9L501.8 913.1L504.8 913.2L507.8 913.4L510.8 913.5L513.8 913.7L516.8 913.8L519.8 913.9L522.8 914.0L525.8 914.1L528.8 914.3L531.8 914.4L534.8 914.5L537.8 914.6L539.8 914.7" stroke="#4daf4a" stroke-dasharray="13.5 9" stroke-dashoffset="13.7"/>
<path d="M354.0 635L354.8 645L355.9 657.8" stroke="#4daf4a"/>
<path d="M350.8 604.2H355.3L355.6 615.5L357.2 620.5L357.0 628.2L352.6 628.5L352.2 617L351.0 613Z" fill="#4daf4a" stroke="none"/>
<path d="M353.4 820.6L354.6 825.0L355.6 822.8L356.4 828.0L358.2 830.0L358.6 834.0L357.2 836.4L354.6 835.6L352.2 833.6L350.6 830.6L350.4 827.0L351.6 824.6L352.4 826.0Z" fill="#800080" stroke="none"/>
<path d="M355.2 829.5L356.7 832.1L358.1 834.8L359.5 837.5L360.8 840.1L362.1 842.9L363.4 845.6L364.6 848.3L365.8 851.1L366.9 853.9L368.0 856.7L369.2 859.5L370.3 862.3L371.4 865.0L372.5 867.8L373.7 870.6L374.9 873.4L376.0 876.2L377.3 878.9L378.6 881.6L380.0 884.2L381.5 886.8L383.1 889.4L384.9 891.8L386.7 894.1L388.7 896.4L390.8 898.4L393.1 900.4L395.5 902.1L398.0 903.7L400.7 905.0L403.4 906.3L406.2 907.3L409.0 908.3L411.9 909.1L414.8 909.8L417.8 910.5L420.7 911.1L423.7 911.6L426.6 912.0L429.6 912.4L432.6 912.8L435.6 913.1L438.6 913.4L441.6 913.7L444.6 914.0L447.6 914.2L450.6 914.4L453.6 914.6L456.6 914.8L459.6 915.0L462.6 915.1L465.6 915.3L468.6 915.5L471.6 915.6L474.6 915.7L477.6 915.9L480.6 916.0L483.6 916.1L486.6 916.2L489.7 916.3L492.7 916.4L495.7 916.5L498.7 916.5L501.7 916.6L504.7 916.7L507.7 916.7L510.7 916.8L513.7 916.9L516.7 916.9L519.7 917.0L522.8 917.1L525.8 917.1L528.8 917.2L531.8 917.2L534.8 917.3L537.8 917.4L539.8 917.4" stroke="#800080" stroke-dasharray="18 2"/>
<path d="M350.9 912.0L353.8 911.1L356.6 910.2L359.5 909.4L362.4 908.7L365.4 908.0L368.3 907.4L371.2 906.8L374.2 906.3L377.2 905.9L380.2 905.6L383.1 905.3L386.1 905.2L389.1 905.1L392.1 905.2L395.1 905.4L398.1 905.6L401.1 905.9L404.1 906.3L407.0 906.7L410.0 907.1L413.0 907.5L416.0 907.9L418.9 908.3L421.9 908.7L424.9 909.0L427.9 909.3L430.9 909.7L433.9 909.9L436.9 910.2L439.8 910.5L442.8 910.8L445.8 911.1L448.8 911.4L451.8 911.6L454.8 911.9L457.8 912.1L460.8 912.3L463.8 912.5L466.8 912.7L469.8 912.9L472.8 913.1L475.8 913.3L478.8 913.4L481.8 913.6L484.8 913.8L487.8 914.0L490.8 914.1L493.8 914.3L496.8 914.4L499.8 914.5L502.8 914.6L505.8 914.7L508.8 914.9L511.8 915.0L514.8 915.1L517.8 915.2L520.8 915.3L523.8 915.4L526.8 915.5L529.8 915.6L532.8 915.7L535.8 915.8L538.8 915.9L539.8 915.9" stroke="#f781bf" stroke-dasharray="4.8 7.4" stroke-width="4.6"/>
</g>
<g fill="none" stroke-linejoin="round" stroke-width="4.4">
<path d="M624.6 926.0L700.0 926.5L819.0 926.9" stroke="#ff7f00"/>
<path d="M626.4 615.5L626.2 618.5L626.0 621.5L626.5 624.4L627.1 627.4L626.9 630.4L626.7 633.3L627.8 636.1L628.1 639.1L628.2 642.1L628.4 645.1L628.5 648.1L628.6 651.1L628.8 654.1L628.9 657.1L629.1 660.1L629.2 663.1L629.4 666.1L629.6 669.1L629.8 672.1L630.0 675.1L630.3 678.0L630.5 681.0L630.8 684.0L631.0 687.0L631.3 690.0L631.6 693.0L631.9 696.0L632.2 699.0L632.6 701.9L633.0 704.9L633.3 707.9L633.7 710.9L634.2 713.8L634.6 716.8L635.0 719.8L635.5 722.7L636.0 725.7L636.5 728.7L637.0 731.6L637.5 734.6L638.1 737.5L638.6 740.5L639.2 743.4L639.8 746.4L640.3 749.3L640.9 752.3L641.5 755.2L642.0 758.2L642.6 761.1L643.2 764.1L643.8 767.0L644.4 769.9L645.0 772.9L645.7 775.8L646.4 778.7L647.1 781.6L647.7 784.6L648.4 787.5L649.0 790.4L649.6 793.4L650.2 796.3L650.8 799.2L651.4 802.2L652.1 805.1L652.7 808.1L653.3 811.0L654.0 813.9L654.7 816.8L655.4 819.8L656.1 822.7L656.8 825.6L657.5 828.5L658.3 831.4L659.1 834.3L659.8 837.2L660.6 840.1L661.5 843.0L662.3 845.9L663.2 848.7L664.1 851.6L665.1 854.4L666.1 857.2L667.2 860.0L668.3 862.8L669.6 865.5L670.9 868.2L672.2 870.9L673.7 873.5L675.2 876.0L676.8 878.6L678.5 881.0L680.3 883.5L682.1 885.8L684.0 888.1L686.1 890.2L688.3 892.2L690.5 894.1L692.9 895.9L695.4 897.6L697.9 899.2L700.5 900.7L703.1 902.2L705.8 903.5L708.5 904.7L711.2 905.9L714.1 906.9L716.9 907.8L719.8 908.7L722.7 909.5L725.6 910.2L728.5 910.8L731.4 911.3L734.4 911.9L737.4 912.3L740.3 912.8L743.3 913.2L746.3 913.6L749.2 913.9L752.2 914.3L755.2 914.6L758.2 915.0L761.2 915.3L764.2 915.6L767.1 916.0L770.1 916.3L773.1 916.6L776.1 916.9L779.1 917.2L782.1 917.5L785.1 917.8L788.1 918.0L791.0 918.2L794.0 918.4L797.0 918.6L800.0 918.8L803.0 919.0L806.0 919.2L809.0 919.4L812.0 919.6L815.0 919.7L818.0 919.9L819.0 920.0" stroke="#f781bf" stroke-dasharray="6 8.3" stroke-dashoffset="-9" stroke-width="4.6"/>
<path d="M626.3 613.8L626.1 620.5L627.3 628L626.9 634.5" stroke="#f781bf" stroke-dasharray="8.5 2.5" stroke-width="4.2"/>
<path d="M624.6 858.4L626.6 854.6L627.8 857.4L629.4 856.2L630.6 858.0L633.6 858.6L633.6 862.6L630.4 861.6L628.4 863.2L626.6 862.4L624.6 863.4Z" fill="#4daf4a" stroke="none"/>
<path d="M632.0 860.5L634.8 861.7L637.5 862.9L640.3 864.1L643.0 865.3L645.8 866.5L648.5 867.8L651.1 869.2L653.6 870.7L656.1 872.4L658.4 874.3L660.7 876.2L663.0 878.1L665.3 880.0L667.6 881.9L670.0 883.7L672.5 885.4L675.0 887.1L677.5 888.8L680.0 890.4L682.5 892.0L685.1 893.5L687.7 895.0L690.4 896.3L693.1 897.6L695.9 898.7L698.7 899.8L701.5 900.9L704.4 901.9L707.2 902.8L710.1 903.7L712.9 904.6L715.8 905.4L718.7 906.2L721.6 907.0L724.6 907.6L727.5 908.3L730.4 908.9L733.4 909.4L736.3 910.0L739.3 910.4L742.3 910.9L745.3 911.3L748.2 911.8L751.2 912.2L754.2 912.6L757.2 913.0L760.1 913.4L763.1 913.8L766.1 914.2L769.1 914.5L772.1 914.8L775.1 915.1L778.1 915.4L781.0 915.7L784.0 916.0L787.0 916.3L790.0 916.5L793.0 916.8L796.0 917.0L799.0 917.3L802.0 917.5L805.0 917.7L808.0 917.9L811.0 918.1L814.0 918.3L817.0 918.5L819.0 918.6" stroke="#4daf4a" stroke-dasharray="13.5 9" stroke-dashoffset="10"/>
<path d="M625.0 870.8L628.0 870.9L630.9 871.0L633.9 871.4L636.8 872.0L639.6 872.9L642.4 873.9L645.2 875.1L647.9 876.4L650.6 877.7L653.2 879.2L655.8 880.8L658.3 882.4L660.8 884.0L663.3 885.7L665.8 887.4L668.3 889.1L670.8 890.7L673.4 892.4L675.9 893.9L678.5 895.4L681.2 896.8L683.9 898.1L686.6 899.4L689.4 900.6L692.2 901.7L695.0 902.7L697.9 903.7L700.7 904.7L703.6 905.6L706.5 906.5L709.4 907.3L712.3 908.0L715.2 908.7L718.2 909.4L721.1 910.0L724.1 910.5L727.0 911.0L730.0 911.5L733.0 912.0L736.0 912.4L738.9 912.8L741.9 913.2L744.9 913.6L747.9 914.0L750.9 914.4L753.9 914.7L756.9 915.0L759.9 915.3L762.9 915.6L765.9 915.8L768.9 916.1L771.9 916.3L774.9 916.5L777.9 916.7L780.9 917.0L783.9 917.2L786.9 917.4L789.9 917.6L792.9 917.8L795.9 917.9L798.9 918.1L802.0 918.3L805.0 918.5L808.0 918.6L811.0 918.8L814.0 918.9L817.0 919.1L819.0 919.2" stroke="#800080" stroke-dasharray="17.5 2.2"/>
</g>
</svg>
</body></html>
